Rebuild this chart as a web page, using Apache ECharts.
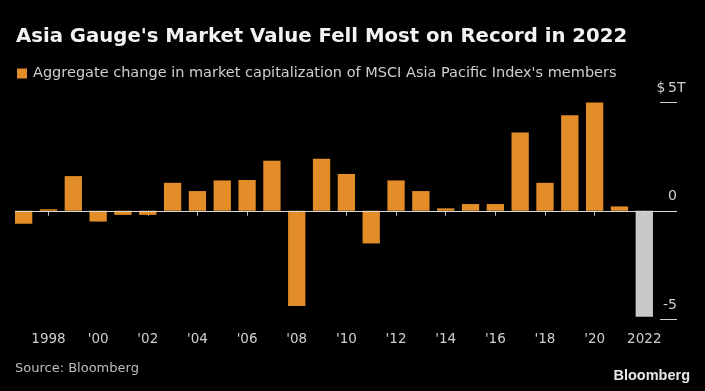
<!DOCTYPE html>
<html>
<head>
<meta charset="utf-8">
<script src="https://cdn.jsdelivr.net/npm/echarts@6/dist/echarts.min.js"></script>
<style>
html,body{margin:0;padding:0;background:#000;}
#c{width:705px;height:391px;}
</style>
</head>
<body>
<div id="c"></div>
<script>
const years = [1997, 1998, 1999, 2000, 2001, 2002, 2003, 2004, 2005, 2006, 2007, 2008, 2009,
  2010, 2011, 2012, 2013, 2014, 2015, 2016, 2017, 2018, 2019, 2020, 2021, 2022];
const values = [-0.6, 0.07, 1.6, -0.5, -0.19, -0.19, 1.29, 0.91, 1.4, 1.42, 2.31, -4.4, 2.4,
  1.7, -1.51, 1.4, 0.91, 0.11, 0.31, 0.31, 3.62, 1.29, 4.41, 5.0, 0.2, -4.9];
const tickYears = [1998, 2000, 2002, 2004, 2006, 2008, 2010, 2012, 2014, 2016, 2018, 2020, 2022];
const tickLabels = ['1998', "'00", "'02", "'04", "'06", "'08", "'10", "'12", "'14", "'16", "'18", "'20", '2022'];
const highlightYear = 2022;

const ORANGE = '#E28D28';
const GREY = '#C8C8C8';
const FONT = 'DejaVu Sans';

const chart = echarts.init(document.getElementById('c'), null, {renderer: 'canvas'});
chart.setOption({
  backgroundColor: '#000',
  animation: false,
  title: {
    text: "Asia Gauge's Market Value Fell Most on Record in 2022",
    left: 11, top: 22,
    textStyle: {color: '#F2F2F2', fontFamily: FONT, fontWeight: 'bold', fontSize: 19.7}
  },
  legend: {
    left: 12, top: 61,
    itemWidth: 10, itemHeight: 10, icon: 'rect', itemGap: 6,
    textStyle: {color: '#CFCFCF', fontFamily: FONT, fontSize: 14.5, padding: [0, 0, 0, 1]},
    data: ["Aggregate change in market capitalization of MSCI Asia Pacific Index's members"]
  },
  grid: {left: 15, right: 28, top: 102.5, bottom: 72, containLabel: false},
  xAxis: {
    type: 'value',
    min: 1996.6515, max: 2023.3175,
    axisLine: {show: false},
    splitLine: {show: false},
    axisTick: {show: true, customValues: tickYears, length: 5, lineStyle: {color: '#BDBDBD'}},
    axisLabel: {
      customValues: tickYears,
      color: '#CFCFCF', fontFamily: FONT, fontSize: 13.5, margin: 13,
      formatter: function (v) { const i = tickYears.indexOf(v); return i >= 0 ? tickLabels[i] : ''; }
    }
  },
  yAxis: {
    type: 'value', position: 'right',
    min: -5, max: 5, interval: 5,
    axisLine: {show: false},
    splitLine: {show: false},
    axisTick: {show: true, inside: true, length: 17, lineStyle: {color: '#D0D0D0'}},
    axisLabel: {
      inside: true, margin: 0, verticalAlign: 'bottom', padding: [0, 0, 7, 0],
      color: '#CFCFCF', fontFamily: FONT, fontSize: 14,
      formatter: function (v) { return v === 5 ? '{n|$\u20095}{t|T}' : String(v); },
      rich: {
        n: {color: '#CFCFCF', fontFamily: FONT, fontSize: 14, align: 'left'},
        t: {color: '#CFCFCF', fontFamily: FONT, fontSize: 14, width: 0, align: 'left'}
      }
    }
  },
  series: [{
    name: "Aggregate change in market capitalization of MSCI Asia Pacific Index's members",
    type: 'bar',
    barWidth: 17.3,
    itemStyle: {color: ORANGE},
    data: years.map(function (y, i) {
      return y === highlightYear
        ? {value: [y, values[i]], itemStyle: {color: GREY}}
        : {value: [y, values[i]]};
    }),
    markLine: {
      silent: true, symbol: 'none', label: {show: false},
      lineStyle: {color: '#D8D8D8', width: 1, type: 'solid'},
      data: [{yAxis: 0}]
    },
    z: 2
  }],
  graphic: [
    {type: 'text', left: 15, top: 362,
      style: {text: 'Source: Bloomberg', fill: '#BDBDBD', font: '13px "DejaVu Sans"'}},
    {type: 'text', right: 15, top: 368,
      style: {text: 'Bloomberg', fill: '#E6E6E6', font: 'bold 14.5px "Liberation Sans"'}}
  ]
});
</script>
</body>
</html>
